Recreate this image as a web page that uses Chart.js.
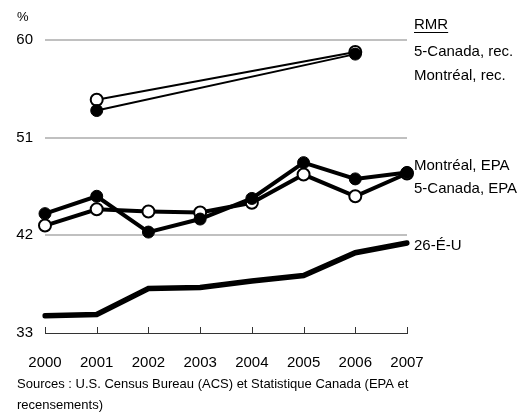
<!DOCTYPE html>
<html>
<head>
<meta charset="utf-8">
<script src="https://cdn.jsdelivr.net/npm/chart.js"></script>
<style>
  html, body { margin: 0; padding: 0; background: #fff; }
  #wrap { width: 524px; height: 412px; }
</style>
</head>
<body>
<div id="wrap"><canvas id="chart" width="524" height="412"></canvas></div>
<script>
// Données
const years = ['2000', '2001', '2002', '2003', '2004', '2005', '2006', '2007'];
const canadaRec = [null, 54.5, null, null, null, null, 58.9, null];
const montrealRec = [null, 53.5, null, null, null, null, 58.7, null];
const montrealEpa = [44.0, 45.6, 42.3, 43.5, 45.4, 48.7, 47.2, 47.8];
const canadaEpa = [42.9, 44.4, 44.2, 44.1, 45.0, 47.6, 45.6, 47.7];
const usa26 = [34.6, 34.7, 37.1, 37.2, 37.8, 38.3, 40.4, 41.3];
const yTicks = [33, 42, 51, 60];

const FONT = '"Liberation Sans", Arial, sans-serif';

// Étiquettes, unité, ticks de l'axe X et sources
const decor = {
    id: 'decor',
    afterDraw(chart) {
        const ctx = chart.ctx;
        const area = chart.chartArea;
        const x = chart.scales.x;
        ctx.save();
        // petits traits verticaux sur l'axe X
        ctx.strokeStyle = '#333';
        ctx.lineWidth = 1;
        years.forEach((y, i) => {
            const px = Math.round(x.getPixelForValue(i)) + 0.5;
            ctx.beginPath();
            ctx.moveTo(px, area.bottom);
            ctx.lineTo(px, area.bottom - 6);
            ctx.stroke();
        });
        ctx.fillStyle = '#000';
        ctx.textBaseline = 'middle';
        ctx.font = '13px ' + FONT;
        ctx.fillText('%', 17, 17);
        // légendes à droite
        ctx.font = '15px ' + FONT;
        const lx = area.right + 7;
        ctx.fillText('RMR', lx, 25);
        const w = ctx.measureText('RMR').width;
        ctx.fillRect(lx, 32, w, 1);
        ctx.fillText('5-Canada, rec.', lx, 52);
        ctx.fillText('Montréal, rec.', lx, 76);
        ctx.fillText('Montréal, EPA', lx, 166);
        ctx.fillText('5-Canada, EPA', lx, 189);
        ctx.fillText('26-É-U', lx, 246);
        // sources
        ctx.font = '13px ' + FONT;
        ctx.fillText('Sources : U.S. Census Bureau (ACS) et Statistique Canada (EPA et', 17, 384);
        ctx.fillText('recensements)', 17, 405);
        ctx.restore();
    }
};

const filled = { pointRadius: 6, pointBackgroundColor: '#000', pointBorderColor: '#000', pointBorderWidth: 1 };
const open = { pointRadius: 6, pointBackgroundColor: '#fff', pointBorderColor: '#000', pointBorderWidth: 2 };

new Chart(document.getElementById('chart'), {
    type: 'line',
    data: {
        labels: years,
        datasets: [
            Object.assign({ label: '5-Canada, rec.', data: canadaRec, borderColor: '#000', borderWidth: 2, spanGaps: true, order: 3 }, open),
            Object.assign({ label: 'Montréal, rec.', data: montrealRec, borderColor: '#000', borderWidth: 2, spanGaps: true, order: 2 }, filled),
            Object.assign({ label: '5-Canada, EPA', data: canadaEpa, borderColor: '#000', borderWidth: 4, order: 1 }, open),
            Object.assign({ label: 'Montréal, EPA', data: montrealEpa, borderColor: '#000', borderWidth: 4, order: 0 }, filled),
            { label: '26-É-U', data: usa26, borderColor: '#000', borderWidth: 5.5, pointRadius: 0, borderCapStyle: 'round', order: 4 }
        ]
    },
    options: {
        responsive: false,
        animation: false,
        layout: { padding: { left: 0, right: 117, top: 40, bottom: 0 } },
        plugins: {
            legend: { display: false },
            tooltip: { enabled: false }
        },
        elements: { line: { tension: 0 }, point: { hitRadius: 0 } },
        scales: {
            x: {
                offset: false,
                grid: { display: false, drawTicks: false },
                border: { display: true, color: '#333', width: 1 },
                ticks: { color: '#000', font: { family: FONT, size: 15 }, padding: 21, maxRotation: 0, autoSkip: false },
                afterFit(scale) { scale.height = 79; }
            },
            y: {
                min: 33,
                max: 60,
                afterBuildTicks(scale) { scale.ticks = yTicks.map(v => ({ value: v })); },
                grid: {
                    drawTicks: false,
                    lineWidth: 2,
                    color: ctx => (ctx.tick && ctx.tick.value === 33) ? 'rgba(0,0,0,0)' : '#c0c0c0'
                },
                border: { display: false },
                ticks: { color: '#000', font: { family: FONT, size: 15 }, padding: 12 },
                afterFit(scale) { scale.width = 45; }
            }
        }
    },
    plugins: [decor]
});
</script>
</body>
</html>
